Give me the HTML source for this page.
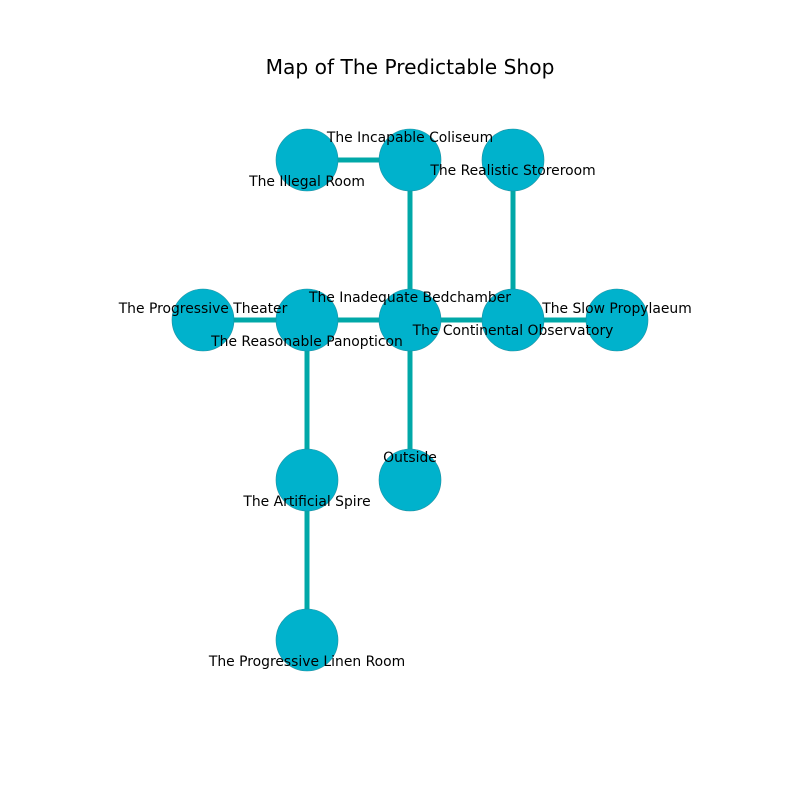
<!DOCTYPE html>
<html><head><meta charset="utf-8"><style>body{margin:0;background:#fff}</style></head>
<body>
<svg width="800" height="800" xmlns="http://www.w3.org/2000/svg" font-family="DejaVu Sans, Liberation Sans, sans-serif">
<rect width="800" height="800" fill="#fff"/>
<text x="410" y="74" font-size="20.2" text-anchor="middle">Map of The Predictable Shop</text>
<g stroke="#00a8a8" stroke-width="5">
<line x1="307" y1="160" x2="410" y2="160"/>
<line x1="410" y1="160" x2="410" y2="320"/>
<line x1="513" y1="160" x2="513" y2="320"/>
<line x1="203" y1="320" x2="617" y2="320"/>
<line x1="307" y1="320" x2="307" y2="640"/>
<line x1="410" y1="320" x2="410" y2="480"/>
</g>
<g fill="#00b2cc" stroke="#1a8fa0" stroke-width="0.6">
<circle cx="307" cy="160" r="31"/><circle cx="410" cy="160" r="31"/><circle cx="513" cy="160" r="31"/>
<circle cx="203" cy="320" r="31"/><circle cx="307" cy="320" r="31"/><circle cx="410" cy="320" r="31"/><circle cx="513" cy="320" r="31"/><circle cx="617" cy="320" r="31"/>
<circle cx="307" cy="480" r="31"/><circle cx="410" cy="480" r="31"/>
<circle cx="307" cy="640" r="31"/>
</g>
<g font-size="13.9" text-anchor="middle" dominant-baseline="central">
<text x="307" y="182">The Illegal Room</text>
<text x="410" y="138">The Incapable Coliseum</text>
<text x="513" y="171">The Realistic Storeroom</text>
<text x="203" y="309">The Progressive Theater</text>
<text x="307" y="342">The Reasonable Panopticon</text>
<text x="410" y="298">The Inadequate Bedchamber</text>
<text x="513" y="331">The Continental Observatory</text>
<text x="617" y="309">The Slow Propylaeum</text>
<text x="307" y="502">The Artificial Spire</text>
<text x="410" y="458">Outside</text>
<text x="307" y="662">The Progressive Linen Room</text>
</g>
</svg>
</body></html>
